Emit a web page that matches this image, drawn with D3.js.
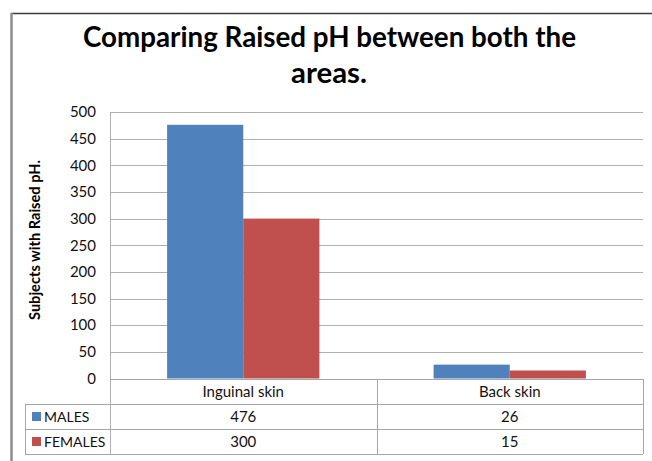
<!DOCTYPE html>
<html><head><meta charset="utf-8">
<script src="https://cdn.jsdelivr.net/npm/d3@7"></script>
<style>body{margin:0;background:#fff}svg{display:block}</style>
</head><body>
<svg id="c" width="652" height="461"></svg>
<script>
const categories = ["Inguinal skin", "Back skin"];
const seriesNames = ["MALES", "FEMALES"];
const males = [476, 26];
const females = [300, 15];
const yTicks = [0, 50, 100, 150, 200, 250, 300, 350, 400, 450, 500];
const titleLines = ["Comparing Raised pH between both the", "areas."];
const yLabel = "Subjects with Raised pH.";
const colors = ["#4f81bd", "#c0504d"];

const series = [males, females];
const font = "Lato, 'Open Sans', sans-serif";
const svg = d3.select("#c");
svg.append("rect").attr("width", 652).attr("height", 461).attr("fill", "#fff");

// outer frame
svg.append("line").attr("x1", 11).attr("x2", 652).attr("y1", 13.5).attr("y2", 13.5).attr("stroke", "#3a3a3a").attr("stroke-width", 1.5);
svg.append("line").attr("x1", 11.5).attr("x2", 11.5).attr("y1", 13).attr("y2", 461).attr("stroke", "#8c8c8c").attr("stroke-width", 2.5);

const L = 110, R = 643, T = 112, B = 378.5;
const y = d3.scaleLinear().domain([0, 500]).range([B, T]);
const x0 = d3.scaleBand().domain(categories).range([L, R]);
const bw = x0.bandwidth() / 3.5;
const x1 = d3.scaleBand().domain(seriesNames).range([0, 2 * bw]);
const gridC = "#b0b0b0";

// gridlines
svg.append("g").selectAll("line").data(yTicks.filter(d => d > 0)).join("line")
  .attr("x1", L).attr("x2", R).attr("y1", d => Math.round(y(d)) + 0.5).attr("y2", d => Math.round(y(d)) + 0.5)
  .attr("stroke", gridC).attr("stroke-width", 1);
svg.append("line").attr("x1", L + 0.5).attr("x2", L + 0.5).attr("y1", T).attr("y2", 454).attr("stroke", gridC);

// tick labels
svg.append("g").selectAll("text").data(yTicks).join("text")
  .attr("x", 96).attr("y", d => y(d)).attr("dy", "0.35em").attr("text-anchor", "end")
  .attr("font-family", font).attr("font-size", 15).attr("fill", "#111").text(d => d);

// bars
const groups = svg.append("g").selectAll("g").data(categories).join("g")
  .attr("transform", d => `translate(${x0(d) + (x0.bandwidth() - 2 * bw) / 2},0)`);
groups.selectAll("rect").data((c, i) => seriesNames.map((s, j) => ({ s, v: series[j][i], j }))).join("rect")
  .attr("x", d => x1(d.s)).attr("width", x1.bandwidth())
  .attr("y", d => y(d.v)).attr("height", d => B - y(d.v))
  .attr("fill", d => colors[d.j]);

// data table
const rowTop = [379, 404, 429, 454];
const tc = "#a6a6a6";
const tbl = svg.append("g");
tbl.append("line").attr("x1", L).attr("x2", R).attr("y1", rowTop[0] + 0.5).attr("y2", rowTop[0] + 0.5).attr("stroke", tc);
[1, 2, 3].forEach(k => tbl.append("line").attr("x1", 25).attr("x2", R).attr("y1", rowTop[k] + 0.5).attr("y2", rowTop[k] + 0.5).attr("stroke", tc));
tbl.append("line").attr("x1", 25.5).attr("x2", 25.5).attr("y1", rowTop[1]).attr("y2", rowTop[3]).attr("stroke", tc);
tbl.append("line").attr("x1", Math.round(x0(categories[1])) + 0.5).attr("x2", Math.round(x0(categories[1])) + 0.5).attr("y1", rowTop[0]).attr("y2", rowTop[3]).attr("stroke", tc);
tbl.append("line").attr("x1", R + 0.5).attr("x2", R + 0.5).attr("y1", rowTop[0]).attr("y2", rowTop[3]).attr("stroke", tc);

// category labels
tbl.selectAll("text.cat").data(categories).join("text").attr("class", "cat")
  .attr("x", d => x0(d) + x0.bandwidth() / 2).attr("y", 397).attr("text-anchor", "middle")
  .attr("font-family", font).attr("font-size", 15).attr("fill", "#111").text(d => d);
// values and legend keys
series.forEach((vals, j) => {
  tbl.selectAll("text.v" + j).data(vals).join("text").attr("class", "v" + j)
    .attr("x", (d, i) => x0(categories[i]) + x0.bandwidth() / 2).attr("y", 422 + j * 25)
    .attr("text-anchor", "middle").attr("font-family", font).attr("font-size", 15).attr("fill", "#111").text(d => d);
  tbl.append("rect").attr("x", 32).attr("y", 412 + j * 25).attr("width", 9).attr("height", 9).attr("fill", colors[j]);
  tbl.append("text").attr("x", 44).attr("y", 422 + j * 25).attr("font-family", font).attr("font-size", 14)
    .attr("fill", "#111").text(seriesNames[j]);
});

// title
svg.append("text").attr("x", 329.5).attr("y", 47).attr("text-anchor", "middle")
  .attr("font-family", font).attr("font-weight", "bold").attr("font-size", 28).attr("fill", "#000")
  .attr("textLength", 493).attr("lengthAdjust", "spacingAndGlyphs").text(titleLines[0]);
svg.append("text").attr("x", 329).attr("y", 83).attr("text-anchor", "middle")
  .attr("font-family", font).attr("font-weight", "bold").attr("font-size", 28).attr("fill", "#000")
  .attr("textLength", 76).attr("lengthAdjust", "spacingAndGlyphs").text(titleLines[1]);

// y label
svg.append("text").attr("transform", "translate(40,240) rotate(-90)").attr("text-anchor", "middle")
  .attr("font-family", font).attr("font-weight", "bold").attr("font-size", 14.5).attr("fill", "#000")
  .attr("textLength", 160).attr("lengthAdjust", "spacingAndGlyphs").text(yLabel);
</script>
</body></html>
